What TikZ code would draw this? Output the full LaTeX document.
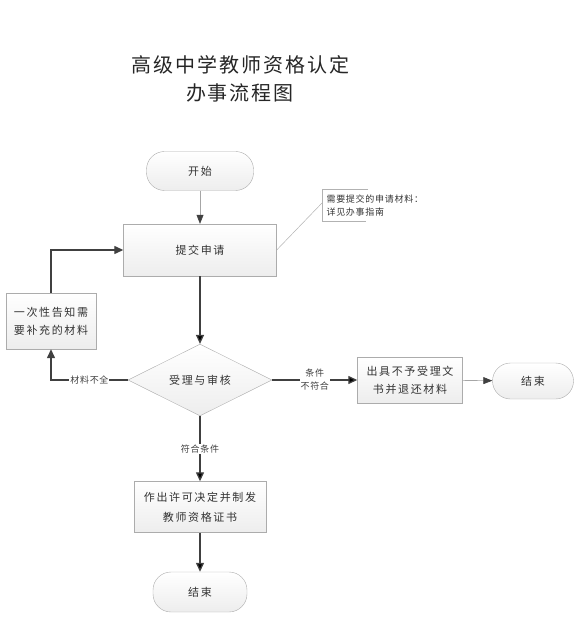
\documentclass[tikz,border=0pt]{standalone}
\usepackage{fontspec}
\setmainfont{Noto Sans CJK SC}
\newfontfamily\titlefont[LetterSpace=10]{Noto Sans CJK SC}
\newfontfamily\boxfont[LetterSpace=15]{Noto Sans CJK SC}
\newfontfamily\lblfont[LetterSpace=8]{Noto Sans CJK SC}
\usepackage{tikz}
\usetikzlibrary{
  arrows.meta,
  shapes.geometric
}
\tikzset{
  proc/.style={
    draw=gray!65,
    top color=white,
    bottom color=gray!14,
    inner sep=0pt,
    align=center,
    text=black!80,
    font=\boxfont\fontsize{11}{18}\selectfont},
  term/.style={
    proc,
    rounded corners=18pt},
  decide/.style={
    proc,
    diamond},
  flow/.style={
    -{Triangle[length=9pt,width=8pt]},
    line width=1.3pt,
    draw=black!75},
  thinflow/.style={
    -{Triangle[length=9pt,width=7pt,color=black!75]},
    line width=0.6pt,
    draw=gray!70},
  lbl/.style={
    fill=white,
    inner sep=1pt,
    align=center,
    text=black!75,
    font=\lblfont\fontsize{9}{13}\selectfont}
  }

\begin{document}
\begin{tikzpicture}[x=1pt,y=-1pt]
    \useasboundingbox (0,0) rectangle (577,617);
    \node[align=center, text=black!85, font=\titlefont\fontsize{20}{28}\selectfont] (title) at (240,79) {高级中学教师资格认定\\办事流程图};
    \node[term, minimum width=107pt, minimum height=39pt] (start) at (200,171) {开始};
    \node[proc, minimum width=153pt, minimum height=52pt] (submit) at (200,250) {提交申请};
    \node[decide, minimum width=144pt, minimum height=71pt] (check) at (200,380) {受理与审核};
    \node[proc, minimum width=90pt, minimum height=56pt] (notify) at (51,321) {一次性告知需\\要补充的材料};
    \node[proc, minimum width=105pt, minimum height=46pt] (reject) at (410,380) {出具不予受理文\\书并退还材料};
    \node[term, minimum width=81pt, minimum height=36pt] (endR) at (533,381) {结束};
    \node[proc, minimum width=132pt, minimum height=51pt, font=\boxfont\fontsize{11}{20}\selectfont] (permit) at (200,507) {作出许可决定并制发\\教师资格证书};
    \node[term, minimum width=94pt, minimum height=40pt] (endD) at (200,592) {结束};
    \draw [thinflow]
      (start) edge[] (submit)
      (reject) edge[] (endR);
    \draw [flow]
      (submit) edge[] (check)
      (check) edge[] node[lbl]{条件\\不符合} (reject)
      (check) edge[] node[lbl]{符合条件} (permit)
      (permit) edge[] (endD);
    \draw [flow] (check.west) -- node[lbl]{材料不全} (check.west -| notify.south) -- (notify.south);
    \draw [flow] (notify.north) |- (submit.west);
    % callout
    \coordinate (notetip) at (322,203);
    \node[anchor=west, align=left, text=black!80, font=\lblfont\fontsize{9}{13}\selectfont] (note) at (323,206) {需要提交的申请材料：\\详见办事指南};
    \draw [gray!60, line width=0.5pt] (submit.east) -- (notetip);
    \draw [gray!60, line width=0.5pt] (368,189) -- (322,189) -- (322,221) -- (366,221);
  \end{tikzpicture}
\end{document}
